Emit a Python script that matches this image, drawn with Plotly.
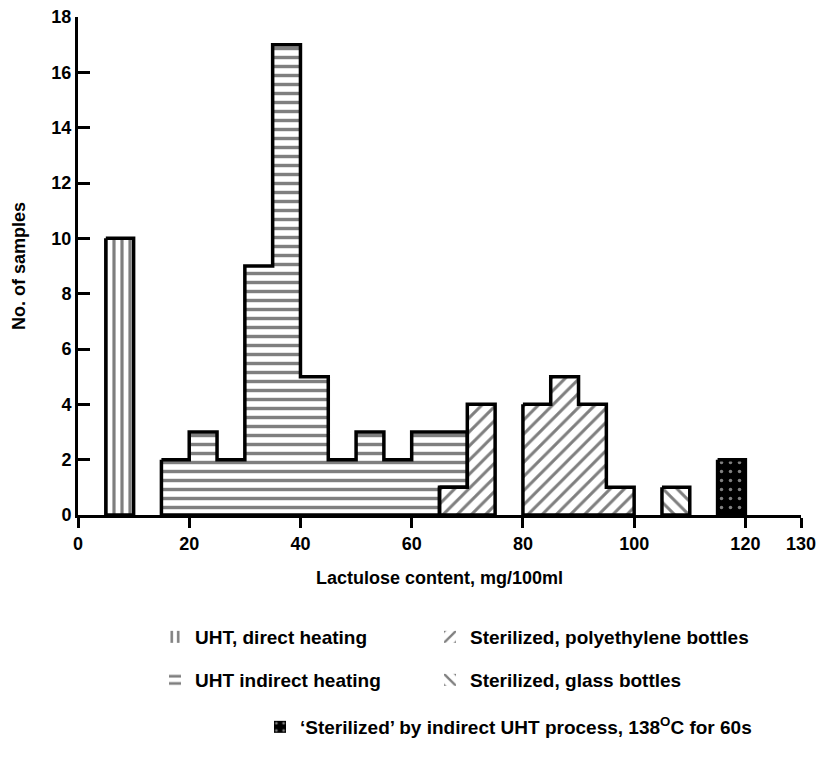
import numpy as np
import plotly.graph_objects as go

# ---- data (histogram of lactulose content, 5 mg/100ml bins from 0 to 130) ----
bin_width = 5
bin_lefts = list(range(0, 130, 5))  # 26 bins

uht_direct = {5: 10}
uht_indirect = {15: 2, 20: 3, 25: 2, 30: 9, 35: 17, 40: 5, 45: 2, 50: 3, 55: 2, 60: 3, 65: 2}
steril_poly = {65: 1, 70: 4, 75: 0, 80: 4, 85: 5, 90: 4, 95: 1}
steril_glass = {105: 1}
steril_uht = {115: 2}

x_ticks = [0, 20, 40, 60, 80, 100, 120, 130]
y_ticks = [0, 2, 4, 6, 8, 10, 12, 14, 16, 18]

names = {
    "direct": "UHT, direct heating",
    "indirect": "UHT indirect heating",
    "poly": "Sterilized, polyethylene bottles",
    "glass": "Sterilized, glass bottles",
    "uht": "‘Sterilized’ by indirect UHT process, 138<sup>O</sup>C for 60s",
}

lefts = np.array(bin_lefts, dtype=float)
centers = lefts + bin_width / 2


def full(d):
    return np.array([d.get(int(l), 0) for l in bin_lefts], dtype=float)


v_direct = full(uht_direct)
v_indirect = full(uht_indirect)
v_poly = full(steril_poly)
v_glass = full(steril_glass)
v_uht = full(steril_uht)

# stacking: polyethylene below indirect where they share a bin
b_zero = np.zeros_like(lefts)
b_indirect = v_poly.copy()


def outline(vals, base):
    xs, ys = [], []
    n = len(vals)
    i = 0
    while i < n:
        if vals[i] <= 0:
            i += 1
            continue
        j = i
        while j + 1 < n and vals[j + 1] > 0:
            j += 1
        pts = []
        for k in range(i, j + 1):
            l, r = lefts[k], lefts[k] + bin_width
            t = base[k] + vals[k]
            pts += [(l, t), (r, t)]
        for k in range(j, i - 1, -1):
            l, r = lefts[k], lefts[k] + bin_width
            pts += [(r, base[k]), (l, base[k])]
        pts.append(pts[0])
        xs += [p[0] for p in pts] + [None]
        ys += [p[1] for p in pts] + [None]
        i = j + 1
    return xs, ys


FONT = "Liberation Sans"
fig = go.Figure()


def add_bar(vals, base, name, legend, shape, size, solidity, fg="black", bg="white"):
    mask = vals > 0
    fig.add_trace(go.Bar(
        x=centers[mask], y=vals[mask], base=base[mask], width=bin_width,
        name=name, legend=legend,
        marker=dict(color=bg, line=dict(width=0),
                    pattern=dict(shape=shape, fgcolor=fg, bgcolor=bg,
                                 size=size, solidity=solidity, fillmode="overlay")),
        hoverinfo="skip",
    ))


add_bar(v_direct, b_zero, names["direct"], "legend", "|", 8, 0.4)
add_bar(v_poly, b_zero, names["poly"], "legend3", "/", 10, 0.3)
add_bar(v_glass, b_zero, names["glass"], "legend4", "\\", 10, 0.3)
add_bar(v_indirect, b_indirect, names["indirect"], "legend2", "-", 9, 0.38)
add_bar(v_uht, b_zero, names["uht"], "legend5", ".", 9, 0.12, fg="white", bg="black")

for vals, base in [(v_direct, b_zero), (v_poly, b_zero), (v_glass, b_zero),
                   (v_indirect, b_indirect), (v_uht, b_zero)]:
    xs, ys = outline(vals, base)
    fig.add_trace(go.Scatter(x=xs, y=ys, mode="lines",
                             line=dict(color="black", width=3.5),
                             showlegend=False, hoverinfo="skip"))

# body margin removed via post_script, so page px == figure px
W, H = 821, 761
plot_left, plot_right, plot_top, plot_bottom = 78, 801, 17, 515
L, T = plot_left, plot_top
R, B = W - plot_right, H - plot_bottom
pw, ph = W - L - R, H - T - B


def px(xp):
    return (xp - plot_left) / pw


def py(yp):
    return (plot_bottom - yp) / ph


leg_common = dict(font=dict(family=FONT, size=19, color="black", weight="bold"),
                  bgcolor="rgba(0,0,0,0)", borderwidth=0,
                  xanchor="left", yanchor="middle")

tickfont = dict(family=FONT, size=18, color="black", weight="bold")

fig.update_layout(
    width=W, height=H,
    margin=dict(l=L, r=R, t=T, b=B, autoexpand=False),
    paper_bgcolor="white", plot_bgcolor="white",
    barmode="overlay", bargap=0,
    font=dict(family=FONT, size=18, color="black"),
    xaxis=dict(range=[0, 130], tickvals=x_ticks, ticktext=[str(v) for v in x_ticks],
               ticks="outside", ticklen=10, tickwidth=3, tickcolor="black",
               showline=True, linewidth=3, linecolor="black", showgrid=False,
               zeroline=False, tickfont=tickfont, ticklabeloverflow="allow",
               title=dict(text="Lactulose content, mg/100ml", font=tickfont, standoff=19)),
    yaxis=dict(range=[0, 18], tickvals=y_ticks, ticks="inside", ticklen=12, tickwidth=3,
               tickcolor="black", showline=True, linewidth=3, linecolor="black",
               showgrid=False, zeroline=False, tickfont=tickfont, ticklabeloverflow="allow",
               title=dict(text="No. of samples", font=tickfont, standoff=22)),
    legend=dict(x=px(155), y=py(637), **leg_common),
    legend2=dict(x=px(155), y=py(680), **leg_common),
    legend3=dict(x=px(430), y=py(637), **leg_common),
    legend4=dict(x=px(430), y=py(680), **leg_common),
    legend5=dict(x=px(260), y=py(727), **leg_common),
    showlegend=True,
)

fig.write_html(
    "out.html",
    config={"displayModeBar": False},
    post_script="document.body.style.margin='0';document.body.style.overflow='hidden';"
                "document.documentElement.style.overflow='hidden';",
)
